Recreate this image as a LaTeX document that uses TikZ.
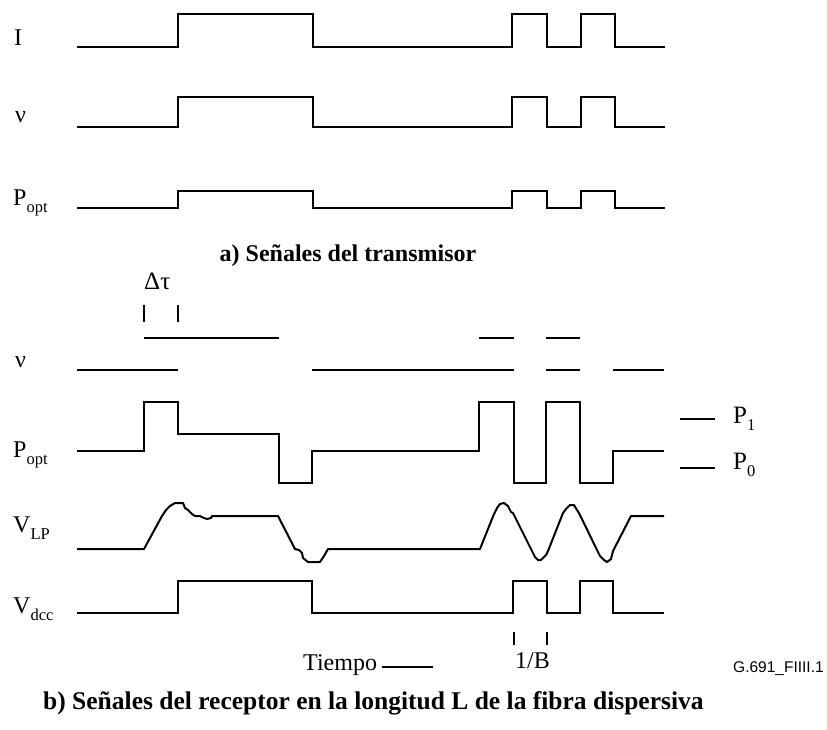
\documentclass[tikz,border=0pt]{standalone}
\usepackage{fontspec}
\setmainfont{Liberation Serif}
\newfontfamily\arialfont{Liberation Sans}
\newcommand{\lsub}[1]{\raisebox{-0.3em}{\fontsize{16.5}{16.5}\selectfont #1}}
\begin{document}
\begin{tikzpicture}[x=1pt,y=-1pt,
  sig/.style={line width=2pt, line join=miter},
  wig/.style={line width=2pt, line join=round},
  tick/.style={line width=2pt},
  lbl/.style={anchor=base west, inner sep=0pt, font=\fontsize{24}{24}\selectfont},
  ttl/.style={inner sep=0pt, font=\fontsize{24}{24}\selectfont\bfseries},
  code/.style={anchor=base west, inner sep=0pt, font=\arialfont\fontsize{15.5}{15.5}\selectfont}]
\useasboundingbox (0,0) rectangle (827,729);
% ---------- a) transmitter ----------
\node[lbl] (lI) at (14,45) {I};
\node[lbl] (lnua) at (15,122) {ν};
\node[lbl] (lpa) at (13,205) {P\lsub{opt}};
\draw[sig] (77,47) -- (178,47) -- (178,14) -- (313,14) -- (313,47) -- (512,47) -- (512,14) -- (547,14) -- (547,47) -- (581,47) -- (581,14) -- (615,14) -- (615,47) -- (665,47);
\draw[sig] (77,127) -- (178,127) -- (178,97) -- (313,97) -- (313,127) -- (512,127) -- (512,97) -- (547,97) -- (547,127) -- (581,127) -- (581,97) -- (615,97) -- (615,127) -- (665,127);
\draw[sig] (77,208) -- (178,208) -- (178,191) -- (313,191) -- (313,208) -- (512,208) -- (512,191) -- (547,191) -- (547,208) -- (581,208) -- (581,191) -- (615,191) -- (615,208) -- (665,208);
\node[ttl, anchor=base] (ta) at (348,261) {a) Señales del transmisor};
% ---------- b) receiver ----------
\node[lbl, font=\fontsize{25}{25}\selectfont] (ldt) at (144,289) {Δτ};
\draw[tick] (144,305) -- (144,322);
\draw[tick] (178,305) -- (178,322);
\node[lbl] (lnub) at (15,367) {ν};
\draw[sig] (144,338) -- (279,338);
\draw[sig] (479,338) -- (514,338);
\draw[sig] (546,338) -- (580,338);
\draw[sig] (77,370) -- (178,370);
\draw[sig] (312,370) -- (514,370);
\draw[sig] (546,370) -- (580,370);
\draw[sig] (613,370) -- (664,370);
\node[lbl] (lpb) at (13,457) {P\lsub{opt}};
\draw[sig] (77,451) -- (144,451) -- (144,402) -- (178,402) -- (178,434) -- (279,434) -- (279,483) -- (312,483) -- (312,451) -- (479,451) -- (479,402) -- (514,402) -- (514,483) -- (546,483) -- (546,402) -- (580,402) -- (580,483) -- (613,483) -- (613,451) -- (664,451);
\draw[sig] (680,419) -- (715,419);
\draw[sig] (680,468) -- (715,468);
\node[lbl, font=\fontsize{25}{25}\selectfont] (lp1) at (733,423) {P\lsub{1}};
\node[lbl, font=\fontsize{25}{25}\selectfont] (lp0) at (733,469) {P\lsub{0}};
\node[lbl] (lvlp) at (13,532) {V\lsub{LP}};
\draw[wig] (77,549) -- (144,549) -- (162,516) -- (166,510) -- (170,506) -- (175,503) -- (183,503) -- (185,508) -- (188,510) -- (192,514) -- (195,516) -- (200,516) -- (204,518) -- (207,519) -- (211,518) -- (212,516) -- (278,516) -- (295,549) -- (299,550) -- (302,553) -- (303,558) -- (308,562) -- (320,562) -- (324,556) -- (328,549) -- (480,549) -- (494,514) -- (497,508) -- (500,504) -- (504,503) -- (508,506) -- (511,512) -- (513,513) -- (532,551) -- (535,557) -- (538,560) -- (541,560) -- (546,555) -- (548,551) -- (563,513) -- (566,509) -- (570,505) -- (574,505) -- (577,510) -- (579,513) -- (597,550) -- (600,556) -- (604,560) -- (607,562) -- (611,559) -- (613,551) -- (631,516) -- (664,516);
\node[lbl] (lvd) at (13,613) {V\lsub{dcc}};
\draw[sig] (77,613) -- (178,613) -- (178,581) -- (312,581) -- (312,613) -- (513,613) -- (513,581) -- (547,581) -- (547,613) -- (580,613) -- (580,581) -- (613,581) -- (613,613) -- (664,613);
\draw[tick] (514,632) -- (514,645);
\draw[tick] (547,632) -- (547,645);
\node[lbl] (ltime) at (303,670) {Tiempo};
\coordinate (tA) at (382,667);
\coordinate (tB) at (433,667);
\draw[line width=1.3pt] (tA) -- (tB);
\node[lbl] (lb) at (515,668) {1/B};
\node[code] (lcode) at (733,672) {G.691\_FIIII.1};
\node[ttl, anchor=base west, font=\fontsize{25.5}{25.5}\selectfont\bfseries] (tb) at (43,709) {b) Señales del receptor en la longitud L de la fibra dispersiva};
\end{tikzpicture}
\end{document}
